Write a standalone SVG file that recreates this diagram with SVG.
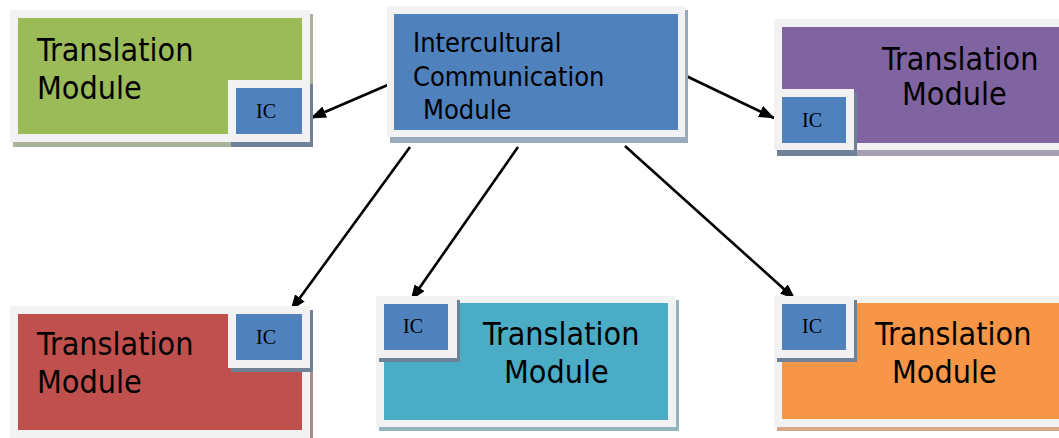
<svg xmlns="http://www.w3.org/2000/svg" width="1059" height="438" viewBox="0 0 1059 438">
<style>
.frame{fill:#f2f2f2}
.ics{fill:#6f8196}
.icb{fill:#4F81BD}
.ict{font-family:"Liberation Serif","Times New Roman",serif;font-size:20px;fill:#000}
.lbl{font-family:"DejaVu Sans Condensed","DejaVu Sans",sans-serif;font-size:32px;fill:#000}
.lblc{font-family:"DejaVu Sans Condensed","DejaVu Sans",sans-serif;font-size:27px;fill:#000}
.conn{stroke:#000;stroke-width:2.6;fill:none;marker-end:url(#ah)}
</style>
<defs>
<marker id="ah" markerUnits="userSpaceOnUse" markerWidth="16" markerHeight="12" refX="15" refY="6" orient="auto">
<path d="M0,0 L16,6 L0,12 Z" fill="#000"/>
</marker>
</defs>
<rect width="1059" height="438" fill="#fff"/>
<g id="connectors">
<line class="conn" x1="390" y1="84" x2="311" y2="118"/>
<line class="conn" x1="682" y1="74" x2="774" y2="118"/>
<line class="conn" x1="410" y1="147" x2="291" y2="310"/>
<line class="conn" x1="518" y1="147" x2="411" y2="300"/>
<line class="conn" x1="625" y1="146" x2="795" y2="299"/>
</g>
<g id="central">
<rect x="390" y="10" width="298" height="133" fill="#9aaabd"/>
<rect class="frame" x="387" y="6" width="298" height="131"/>
<rect x="394" y="14" width="284" height="116" fill="#4F81BD"/>
<text class="lblc" x="413" y="52">Intercultural</text>
<text class="lblc" x="413" y="86">Communication</text>
<text class="lblc" x="423" y="119">Module</text>
</g>
<g id="green">
<rect x="13" y="14" width="300" height="133" fill="#a9b39b"/>
<rect class="frame" x="10" y="10" width="300" height="132"/>
<rect x="18" y="18" width="284" height="116" fill="#9BBB59"/>
<text class="lbl" x="37" y="61">Translation</text>
<text class="lbl" x="37" y="99">Module</text>
<rect class="ics" x="231" y="84" width="82" height="63"/>
<rect class="frame" x="228" y="80" width="82" height="62"/>
<rect class="icb" x="236" y="88" width="66" height="46"/>
<text class="ict" x="256" y="118">IC</text>
</g>
<g id="purple">
<rect x="777" y="23" width="290" height="133" fill="#a7a0b3"/>
<rect class="frame" x="774" y="19" width="290" height="131"/>
<rect x="782" y="27" width="290" height="116" fill="#8064A2"/>
<text class="lbl" x="882" y="70">Translation</text>
<text class="lbl" x="902" y="105">Module</text>
<rect class="ics" x="777" y="93" width="80" height="63"/>
<rect class="frame" x="774" y="89" width="80" height="61"/>
<rect class="icb" x="782" y="97" width="64" height="46"/>
<text class="ict" x="802" y="127">IC</text>
</g>
<g id="red">
<rect x="13" y="310" width="300" height="132" fill="#a58c8c"/>
<rect class="frame" x="10" y="306" width="300" height="132"/>
<rect x="18" y="314" width="284" height="116" fill="#C0504D"/>
<text class="lbl" x="37" y="355">Translation</text>
<text class="lbl" x="37" y="393">Module</text>
<rect class="ics" x="231" y="310" width="82" height="62"/>
<rect class="frame" x="228" y="306" width="82" height="62"/>
<rect class="icb" x="236" y="314" width="66" height="46"/>
<text class="ict" x="256" y="344">IC</text>
</g>
<g id="cyan">
<rect x="379" y="300" width="300" height="131" fill="#93b3bd"/>
<rect class="frame" x="376" y="296" width="300" height="131"/>
<rect x="384" y="303" width="284" height="117" fill="#4BACC6"/>
<text class="lbl" x="483" y="345">Translation</text>
<text class="lbl" x="504" y="383">Module</text>
<rect class="ics" x="379" y="300" width="81" height="62"/>
<rect class="frame" x="376" y="296" width="81" height="62"/>
<rect class="icb" x="384" y="304" width="64" height="46"/>
<text class="ict" x="403" y="333">IC</text>
</g>
<g id="orange">
<rect x="777" y="300" width="290" height="131" fill="#d6a888"/>
<rect class="frame" x="774" y="296" width="290" height="131"/>
<rect x="782" y="303" width="290" height="116" fill="#F79646"/>
<text class="lbl" x="875" y="345">Translation</text>
<text class="lbl" x="892" y="383">Module</text>
<rect class="ics" x="777" y="300" width="80" height="62"/>
<rect class="frame" x="774" y="296" width="80" height="62"/>
<rect class="icb" x="782" y="304" width="64" height="46"/>
<text class="ict" x="802" y="333">IC</text>
</g>
</svg>
